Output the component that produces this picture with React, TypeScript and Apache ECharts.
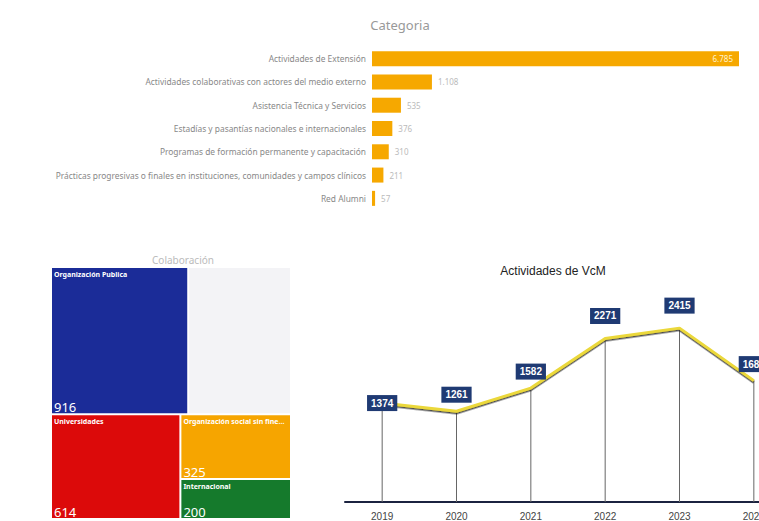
import React, { useEffect, useRef } from "react";
import * as echarts from "echarts";

const barCategories = [
  "Actividades de Extensión",
  "Actividades colaborativas con actores del medio externo",
  "Asistencia Técnica y Servicios",
  "Estadías y pasantías nacionales e internacionales",
  "Programas de formación permanente y capacitación",
  "Prácticas progresivas o finales en instituciones, comunidades y campos clínicos",
  "Red Alumni",
];
const barValues = [6785, 1108, 535, 376, 310, 211, 57];

const treemapNames = [
  "Organización Publica",
  "Organización Privada",
  "Universidades",
  "Organización social sin fines de lucro",
  "Internacional",
];
const treemapValues = [916, 686, 614, 325, 200];
const treemapColors = ["#1B2C98", "#F3F3F6", "#DC0A0A", "#F6A500", "#157A2C"];

const years = ["2019", "2020", "2021", "2022", "2023", "2024"];
const yearValues = [1374, 1261, 1582, 2271, 2415, 1686];

const fmt = (v: number) => String(v).replace(/\B(?=(\d{3})+(?!\d))/g, ".");

export default function App() {
  const ref = useRef<HTMLDivElement>(null);
  useEffect(() => {
    if (!ref.current) return;
    const chart = echarts.init(ref.current, undefined, { renderer: "svg" });
    const font = "Noto Sans";
    const treeData = treemapNames.map((n, i) => ({
      name: n,
      value: treemapValues[i],
      itemStyle: { color: treemapColors[i] },
      label: i === 1 ? { show: false } : undefined,
    }));
    const treeBase = {
      type: "treemap",
      left: 52,
      top: 268,
      width: 238,
      height: 250,
      roam: false,
      nodeClick: false,
      breadcrumb: { show: false },
      levels: [{ itemStyle: { gapWidth: 2, borderWidth: 0 } }],
    };
    chart.setOption({
      animation: false,
      backgroundColor: "#ffffff",
      title: [
        {
          text: "Categoria",
          left: 395,
          top: 13,
          textAlign: "center",
          textStyle: { fontSize: 13, color: "#999", fontWeight: "normal", fontFamily: font },
        },
        {
          text: "Colaboración",
          left: 178,
          top: 250,
          textAlign: "center",
          textStyle: { fontSize: 10, color: "#bbb", fontWeight: "normal", fontFamily: font },
        },
        {
          text: "Actividades de VcM",
          left: 548,
          top: 260,
          textAlign: "center",
          textStyle: { fontSize: 12, color: "#222", fontWeight: "normal", fontFamily: "Liberation Sans" },
        },
      ],
      grid: [
        { left: 372, right: 20, top: 47, height: 163, outerBoundsMode: "none" },
        { left: 345, width: 446, top: 286, height: 216, outerBoundsMode: "none", containLabel: false },
      ],
      xAxis: [
        { type: "value", gridIndex: 0, min: 0, max: barValues[0], show: false },
        {
          type: "category",
          gridIndex: 1,
          data: years,
          boundaryGap: true,
          axisLine: { lineStyle: { color: "#1B2340", width: 2 } },
          axisTick: { show: false },
          axisLabel: { color: "#444", fontSize: 10, fontFamily: "Liberation Sans", margin: 9 },
        },
      ],
      yAxis: [
        {
          type: "category",
          gridIndex: 0,
          data: barCategories,
          inverse: true,
          axisLine: { show: false },
          axisTick: { show: false },
          axisLabel: { color: "#888", fontSize: 8.4, fontFamily: font, margin: 6 },
        },
        { type: "value", gridIndex: 1, min: 0, max: 3000, show: false },
      ],
      series: [
        {
          type: "bar",
          xAxisIndex: 0,
          yAxisIndex: 0,
          barWidth: 15,
          itemStyle: { color: "#F6A800" },
          data: barValues.map((v, i) => ({
            value: v,
            label:
              i === 0
                ? { show: true, position: "insideRight", color: "#fff3d0", distance: 6 }
                : { show: true, position: "right", color: "#bbb", distance: 6 },
          })),
          label: { fontSize: 8, fontFamily: font, formatter: (p: any) => fmt(p.value) },
        },
        {
          ...treeBase,
          data: treeData,
          label: {
            show: true,
            position: "insideTopLeft",
            formatter: (p: any) => p.name,
            color: "#fff",
            fontSize: 7,
            fontWeight: "bold",
            fontFamily: font,
            overflow: "truncate",
            padding: [3, 2],
          },
        },
        {
          ...treeBase,
          silent: true,
          data: treemapNames.map((n, i) => ({
            name: n,
            value: treemapValues[i],
            itemStyle: { color: "rgba(0,0,0,0)" },
            label: i === 1 ? { show: false } : undefined,
          })),
          levels: [{ itemStyle: { gapWidth: 2, borderWidth: 0, color: "rgba(0,0,0,0)" } }],
          label: {
            show: true,
            position: "insideBottomLeft",
            formatter: (p: any) => String(p.value),
            color: "#fff",
            fontSize: 13,
            fontFamily: font,
            padding: [0, 2, 0, 2],
          },
        },
        {
          type: "bar",
          xAxisIndex: 1,
          yAxisIndex: 1,
          barWidth: 1,
          itemStyle: { color: "#666" },
          silent: true,
          data: yearValues,
        },
        {
          type: "line",
          xAxisIndex: 1,
          yAxisIndex: 1,
          symbol: "circle",
          symbolSize: 1,
          showSymbol: true,
          itemStyle: { color: "rgba(0,0,0,0)" },
          lineStyle: {
            color: "#EBD83A",
            width: 3,
            shadowColor: "rgba(30,30,30,0.8)",
            shadowBlur: 0,
            shadowOffsetY: 1.5,
          },
          data: yearValues.map((v, i) => ({
            value: v,
            label:
              i === 0
                ? { show: true, position: "inside" }
                : { show: true, position: "top", distance: i === 3 || i === 4 ? 14 : 8 },
          })),
          label: {
            show: true,
            color: "#fff",
            backgroundColor: "#1F3A73",
            fontWeight: "bold",
            fontSize: 10,
            fontFamily: "Liberation Sans",
            padding: [3, 4],
          },
          labelLayout: { hideOverlap: false },
          z: 5,
        },
      ],
    });
    return () => chart.dispose();
  }, []);
  return (
    <div
      ref={ref}
      style={{ position: "fixed", left: 0, top: 0, width: 759, height: 521 }}
    />
  );
}
